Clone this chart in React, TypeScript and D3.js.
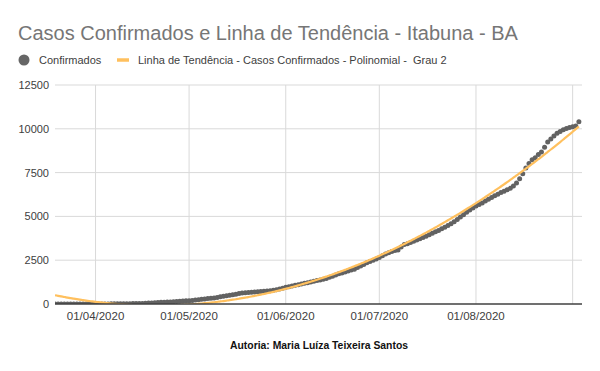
import React from 'react';
import * as d3 from 'd3';

// daily cumulative confirmed cases, starting 19/03/2020
const START_DATE = new Date(2020, 2, 19);
const confirmed = [
  1, 1, 1, 2, 2, 2, 2, 3, 3, 3, 4, 4, 4, 4,
  5, 5, 6, 7, 8, 9, 10,
  12, 14, 16, 19, 22, 25, 28,
  35, 42, 51, 60, 72, 84, 95,
  103, 110, 118, 131, 145, 158, 170,
  182, 190, 206, 226, 247, 268, 290,
  310, 328, 345, 372, 410, 448, 470,
  495, 528, 562, 600, 626, 644, 658,
  670, 684, 700, 715, 728, 741, 760,
  790, 820, 855, 900, 950, 990, 1030,
  1065, 1100, 1145, 1180, 1215, 1255, 1300,
  1340, 1370, 1410, 1460, 1525, 1580, 1650,
  1720, 1765, 1820, 1880, 1935, 1990, 2080,
  2170, 2260, 2360, 2430, 2500, 2570, 2660,
  2760, 2850, 2930, 2990, 3050, 3080, 3250, 3400,
  3440, 3510, 3580, 3650, 3720, 3800, 3870,
  3950, 4040, 4130, 4200, 4290, 4380, 4480,
  4580, 4700, 4830, 4970, 5100, 5235, 5360,
  5480, 5590, 5680, 5770, 5880, 5980, 6080,
  6180, 6270, 6360, 6440, 6520, 6600, 6730,
  6900, 7150, 7440, 7760, 8020, 8230, 8350,
  8530, 8680, 8950, 9250, 9420, 9590, 9740,
  9850, 9940, 10010, 10080, 10120, 10160, 10400,
];
const yTicks = [0, 2500, 5000, 7500, 10000, 12500];
const labelledMonths = ['01/04/2020', '01/05/2020', '01/06/2020', '01/07/2020', '01/08/2020'];

const TITLE = 'Casos Confirmados e Linha de Tendência - Itabuna - BA';
const SERIES_NAME = 'Confirmados';
const TREND_NAME = 'Linha de Tendência - Casos Confirmados - Polinomial -  Grau 2';
const FOOTER = 'Autoria: Maria Luíza Teixeira Santos';

const W = 600;
const H = 371;
const plot = { left: 55, right: 582, top: 85, bottom: 304 };
const FONT = "'Liberation Sans', Arial, sans-serif";

// least squares fit of degree 2, like Excel's polynomial trendline
function quadFit(ys: number[]) {
  const s = [0, 0, 0, 0, 0];
  const t = [0, 0, 0];
  ys.forEach((y, i) => {
    const x = i + 1;
    for (let k = 0; k < 5; k++) s[k] += Math.pow(x, k);
    for (let k = 0; k < 3; k++) t[k] += y * Math.pow(x, k);
  });
  const m = [
    [s[0], s[1], s[2], t[0]],
    [s[1], s[2], s[3], t[1]],
    [s[2], s[3], s[4], t[2]],
  ];
  for (let c = 0; c < 3; c++) {
    for (let r = c + 1; r < 3; r++) {
      const f = m[r][c] / m[c][c];
      for (let k = c; k < 4; k++) m[r][k] -= f * m[c][k];
    }
  }
  const b = [0, 0, 0];
  for (let r = 2; r >= 0; r--) {
    let v = m[r][3];
    for (let k = r + 1; k < 3; k++) v -= m[r][k] * b[k];
    b[r] = v / m[r][r];
  }
  return (x: number) => b[0] + b[1] * (x + 1) + b[2] * (x + 1) * (x + 1);
}

export default function App() {
  const points = confirmed.map((v, i) => ({ date: d3.timeDay.offset(START_DATE, i), value: v }));
  const endDate = d3.timeDay.offset(START_DATE, confirmed.length);

  const x = d3.scaleTime().domain([START_DATE, endDate]).range([plot.left, plot.right]);
  const y = d3.scaleLinear().domain([0, 12500]).range([plot.bottom, plot.top]);

  const trend = quadFit(confirmed);
  const trendPts = d3.range(0, confirmed.length - 1 + 0.01, 0.5).map(i => ({
    date: d3.timeHour.offset(START_DATE, i * 24),
    value: trend(i),
  }));
  const trendLine = d3.line<{ date: Date; value: number }>()
    .x(d => x(d.date))
    .y(d => y(d.value))
    .curve(d3.curveMonotoneX);

  const months = d3.timeMonth.range(d3.timeMonth.ceil(START_DATE), endDate);
  const fmt = d3.timeFormat('%d/%m/%Y');

  return (
    <svg width={W} height={H} style={{ position: 'absolute', left: 0, top: 0, background: '#fff' }}>
      <defs>
        <clipPath id="plot-clip">
          <rect x={plot.left} y={plot.top} width={plot.right - plot.left} height={plot.bottom - plot.top} />
        </clipPath>
      </defs>

      <text x={18} y={40} fontFamily={FONT} fontSize={20} fill="#767676">{TITLE}</text>

      {/* legend */}
      <circle cx={24} cy={60} r={5.5} fill="#666" />
      <text x={39} y={64} fontFamily={FONT} fontSize={11} fill="#404040">{SERIES_NAME}</text>
      <line x1={117} x2={129} y1={60} y2={60} stroke="#FFC05E" strokeWidth={3.5} />
      <text x={138} y={64} fontFamily={FONT} fontSize={11} fill="#404040" style={{ whiteSpace: 'pre' }}>{TREND_NAME}</text>

      {/* grid */}
      {yTicks.filter(t => t > 0).map(t => (
        <line key={t} x1={plot.left} x2={plot.right} y1={y(t)} y2={y(t)} stroke="#d9d9d9" strokeWidth={1} />
      ))}
      {months.map(m => (
        <line key={+m} x1={x(m)} x2={x(m)} y1={plot.top} y2={plot.bottom} stroke="#d9d9d9" strokeWidth={1} />
      ))}

      {yTicks.map(t => (
        <text key={t} x={49} y={y(t) + 4} textAnchor="end" fontFamily={FONT} fontSize={11} fill="#404040">{t}</text>
      ))}
      {months.filter(m => labelledMonths.includes(fmt(m))).map(m => (
        <text key={+m} x={x(m)} y={320} textAnchor="middle" fontFamily={FONT} fontSize={11.5} fill="#404040">{fmt(m)}</text>
      ))}

      <g clipPath="url(#plot-clip)">
        {points.map((p, i) => (
          <circle key={i} cx={x(p.date)} cy={y(p.value)} r={2.5} fill="#626262" />
        ))}
        <path d={trendLine(trendPts) || ''} fill="none" stroke="#FFC05E" strokeWidth={2.2} />
      </g>

      <line x1={plot.left} x2={plot.right} y1={plot.bottom} y2={plot.bottom} stroke="#404040" strokeWidth={1.3} />

      <text x={319} y={349} textAnchor="middle" fontFamily={FONT} fontWeight="bold" fontSize={11.5}
        textLength={178} lengthAdjust="spacingAndGlyphs" fill="#111">{FOOTER}</text>
    </svg>
  );
}
